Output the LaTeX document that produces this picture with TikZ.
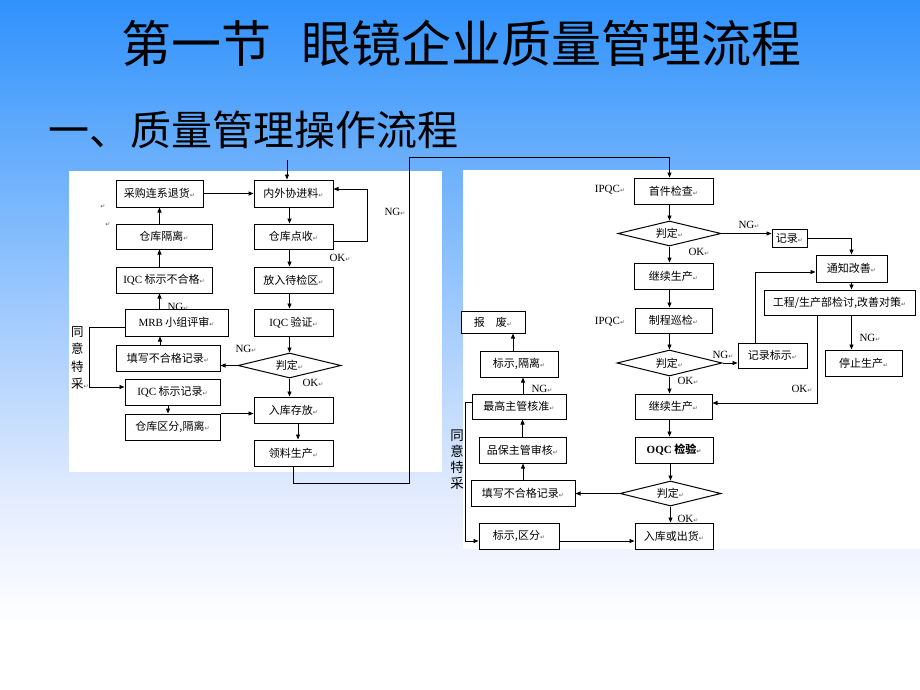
\documentclass[tikz,border=0pt]{standalone}
\usepackage{fontspec}
\setmainfont{Liberation Serif}
\newfontfamily\cjk{Noto Sans CJK SC}
\newfontfamily\symf{DejaVu Sans}
\usetikzlibrary{arrows.meta,shapes.geometric}
\newcommand\rt{{\symf\fontsize{6}{6}\selectfont\color{black!65}↵}}
\newcommand\lt[1]{{\rmfamily #1}}
\definecolor{bgtop}{RGB}{48,146,252}
\definecolor{bgmid}{RGB}{228,236,253}
\begin{document}
\begin{tikzpicture}[x=1pt,y=-1pt,
  box/.style={draw, fill=white, line width=1pt, inner sep=0pt, minimum height=26pt, font=\cjk\fontsize{11}{13}\selectfont},
  dia/.style={draw, fill=white, line width=1pt, diamond, aspect=4, inner sep=0pt, minimum width=103pt, minimum height=25pt, font=\cjk\fontsize{11}{13}\selectfont},
  lbl/.style={inner sep=0pt, font=\rmfamily\fontsize{11}{13}\selectfont},
  arr/.style={line width=0.9pt, -{Triangle[length=5pt,width=4pt]}},
  vtxt/.style={inner sep=0pt, align=left, font=\cjk\fontsize{12.5}{17.5}\selectfont},
]
\useasboundingbox (0,0) rectangle (920,690);
\shade[top color=bgtop, bottom color=bgmid] (0,0) rectangle (920,500);
\shade[top color=bgmid, bottom color=white] (0,499.5) rectangle (920,625);
\fill[white] (0,624.5) rectangle (920,690);

% titles
\node[anchor=base, inner sep=0pt, font=\cjk\fontsize{50}{50}\selectfont] (title) at (461,63) {第一节\hspace{30pt}眼镜企业质量管理流程};
\node[anchor=base west, inner sep=0pt, font=\cjk\fontsize{41}{41}\selectfont] (sub) at (48,146) {一、质量管理操作流程};

% panels
\fill[white] (69,171) rectangle (442,472);
\fill[white] (463,170) rectangle (920,549);

% ---------- left flow ----------
\node[box, minimum width=87pt, minimum height=27pt] (p1) at (159.5,193.5) {采购连系退货\rt};
\node[box, minimum width=79pt, minimum height=27pt] (p2) at (293.5,193.5) {内外协进料\rt};
\node[box, minimum width=96pt, minimum height=25pt] (p3) at (164,236.5) {仓库隔离\rt};
\node[box, minimum width=79pt, minimum height=25pt] (p4) at (293.5,236.5) {仓库点收\rt};
\node[box, minimum width=96pt] (p5) at (164,280) {\lt{IQC} 标示不合格\rt};
\node[box, minimum width=79pt] (p6) at (293.5,280) {放入待检区\rt};
\node[box, minimum width=103pt, minimum height=27pt] (p7) at (176.5,322.5) {\lt{MRB} 小组评审\rt};
\node[box, minimum width=79pt, minimum height=27pt] (p8) at (293.5,322.5) {\lt{IQC} 验证\rt};
\node[box, minimum width=104pt] (p9) at (168,358) {填写不合格记录\rt};
\node[dia] (d1) at (289.5,365.5) {判定\rt};
\node[box, minimum width=95pt] (p10) at (172.5,392) {\lt{IQC} 标示记录\rt};
\node[box, minimum width=79pt] (p11) at (293.5,410) {入库存放\rt};
\node[box, minimum width=95pt] (p12) at (172.5,427) {仓库区分,隔离\rt};
\node[box, minimum width=79pt] (p13) at (293.5,453) {领料生产\rt};

\node[inner sep=0pt] (m1) at (103,207) {\rt};
\node[inner sep=0pt] (m2) at (108,225) {\rt};

\coordinate (in1) at (287,160);
\draw[arr] (in1) -- (in1 |- p2.north);
\draw[arr] (p1.east) -- (p2.west);
\draw[arr] (p2.south -| d1) -- (p4.north -| d1);
\draw[arr] (p4.south -| d1) -- (p6.north -| d1);
\draw[arr] (p6.south -| d1) -- (p8.north -| d1);
\draw[arr] (p8.south -| d1) -- (d1.north);
\draw[arr] (d1.south) -- (p11.north -| d1);
\draw[arr] ([yshift=-4.5pt]p4.east) -- ++(34,0) |- ([yshift=4.5pt]p2.east);
\node[lbl] (ng1) at (395,212) {NG\rt};
\node[lbl] (ok1) at (340,258) {OK\rt};
\draw[arr] ([xshift=4.5pt]p11.south) -- ([xshift=4.5pt]p13.north);
\node[lbl] (ok2) at (313,383) {OK\rt};
\draw[arr] (d1.west) -- (d1.west -| p9.east);
\node[lbl] (ng2) at (246,349) {NG\rt};
\draw[arr] ([xshift=-8pt]p9.north) -- ([xshift=-8pt]p9.north |- p7.south);
\draw[arr] (p7.north -| p1) -- (p5.south -| p1);
\node[lbl] (ng3) at (178,307) {NG\rt};
\draw[arr] (p5.north -| p1) -- (p3.south -| p1);
\draw[arr] (p3.north -| p1) -- (p1.south);
\draw[arr] ([yshift=-4.5pt]p7.west) -- ++(-35,0) |- ([yshift=5pt]p10.west);
\node[vtxt, anchor=north west] (ty1) at (71,326) {同\\意\\特\\采\rt};
\draw[arr] ([xshift=-4.5pt]p10.south) -- ([xshift=-4.5pt]p12.north);
\draw[arr] (p12.north east) -- (p12.north east -| p11.west);

% ---------- right flow ----------
\node[box, minimum width=79pt] (q1) at (673.5,191) {首件检查\rt};
\node[dia] (d2) at (669.5,233.5) {判定\rt};
\node[box, minimum width=35pt, minimum height=18pt] (q2) at (789.5,238) {记录\rt};
\node[box, minimum width=79pt] (q3) at (673.5,276) {继续生产\rt};
\node[box, minimum width=71pt, minimum height=27pt] (q4) at (851.5,268.5) {通知改善\rt};
\node[box, minimum width=151pt, minimum height=25pt] (q5) at (839.5,302.5) {工程/生产部检讨,改善对策\rt};
\node[box, minimum width=64pt, minimum height=22pt] (q6) at (493,322) {报\hspace{11pt}废\rt};
\node[box, minimum width=77pt, minimum height=25pt] (q7) at (673.5,320.5) {制程巡检\rt};
\node[dia, minimum width=105pt, minimum height=26pt] (d3) at (669.5,363) {判定\rt};
\node[box, minimum width=69pt, minimum height=25pt] (q8) at (772.5,355.5) {记录标示\rt};
\node[box, minimum width=77pt] (q9) at (863.5,363) {停止生产\rt};
\node[box, minimum width=78pt] (q10) at (519,364) {标示,隔离\rt};
\node[box, minimum width=94pt, minimum height=25pt] (q11) at (519,406.5) {最高主管核准\rt};
\node[box, minimum width=77pt, minimum height=25pt] (q12) at (673.5,406.5) {继续生产\rt};
\node[box, minimum width=87pt] (q13) at (522.5,450) {品保主管审核\rt};
\node[box, minimum width=78pt] (q14) at (674,450) {\bfseries\lt{OQC} 检验\rt};
\node[box, minimum width=104pt] (q15) at (523,493) {填写不合格记录\rt};
\node[dia, minimum width=101pt] (d4) at (670.5,493.5) {判定\rt};
\node[box, minimum width=80pt] (q16) at (519,536) {标示,区分\rt};
\node[box, minimum width=78pt] (q17) at (674,536) {入库或出货\rt};

\node[lbl] (ip1) at (610,190) {IPQC\rt};
\node[lbl] (ip2) at (610,322) {IPQC\rt};

% cross connector
\coordinate (b1) at (409,483);
\coordinate (b2) at (409,157);
\draw[arr] (p13.south) |- (b1) -- (b2) -| (d2 |- q1.north);

\draw[arr] (q1.south -| d2) -- (d2.north);
\draw[arr] (d2.south) -- (q3.north -| d2);
\node[lbl] (ok3) at (699,252) {OK\rt};
\draw[arr] (d2.east) -- (d2.east -| q2.west);
\node[lbl] (ng4) at (749,225) {NG\rt};
\draw[arr] (q2.east) -| (q4.north);
\draw[arr] (q4.south) -- (q4.south |- q5.north);
\draw[arr] (q3.south -| d2) -- (q7.north -| d2);
\draw[arr] (q7.south -| d2) -- (d3.north);
\draw[arr] (d3.south) -- (q12.north -| d3);
\node[lbl] (ok4) at (688,381) {OK\rt};
\draw[arr] (d3.east) -- (d3.east -| q8.west);
\node[lbl] (ng5) at (723,355) {NG\rt};
\draw[arr] ([xshift=-17.5pt]q8.north) |- ([yshift=-3.5pt]q4.west);
\draw[arr] ([xshift=12pt]q5.south) -- ([xshift=12pt]q5.south |- q9.north);
\node[lbl] (ng6) at (870,338) {NG\rt};
\draw[arr] ([xshift=-22.5pt]q5.south) |- ([yshift=3.5pt]q12.east);
\node[lbl] (ok5) at (802,389) {OK\rt};
\draw[arr] (q12.south -| d3) -- (q14.north -| d3);
\draw[arr] (q14.south -| d4) -- (d4.north);
\draw[arr] (d4.south) -- (q17.north -| d4);
\node[lbl] (ok6) at (688,519) {OK\rt};
\draw[arr] (d4.west) -- (d4.west -| q15.east);
\draw[arr] (q15.north) -- (q15.north |- q13.south);
\draw[arr] (q13.north) -- (q13.north |- q11.south);
\draw[arr] ([xshift=4pt]q11.north) -- ([xshift=4pt]q11.north |- q10.south);
\node[lbl] (ng7) at (542,389) {NG\rt};
\draw[arr] ([xshift=-6pt]q10.north) -- ([xshift=-6pt]q10.north |- q6.south);
\draw[arr] ([yshift=4.5pt]q11.west) -- ++(-6,0) |- ([yshift=-5pt]q16.west);
\draw[arr] ([yshift=-5pt]q16.east) -- ([yshift=-5pt]q16.east -| q17.west);
\node[inner sep=0pt, align=center, font=\cjk\fontsize{13.5}{16}\selectfont, anchor=north] (ty2) at (457,430) {同\\意\\特\\采};
\end{tikzpicture}
\end{document}
